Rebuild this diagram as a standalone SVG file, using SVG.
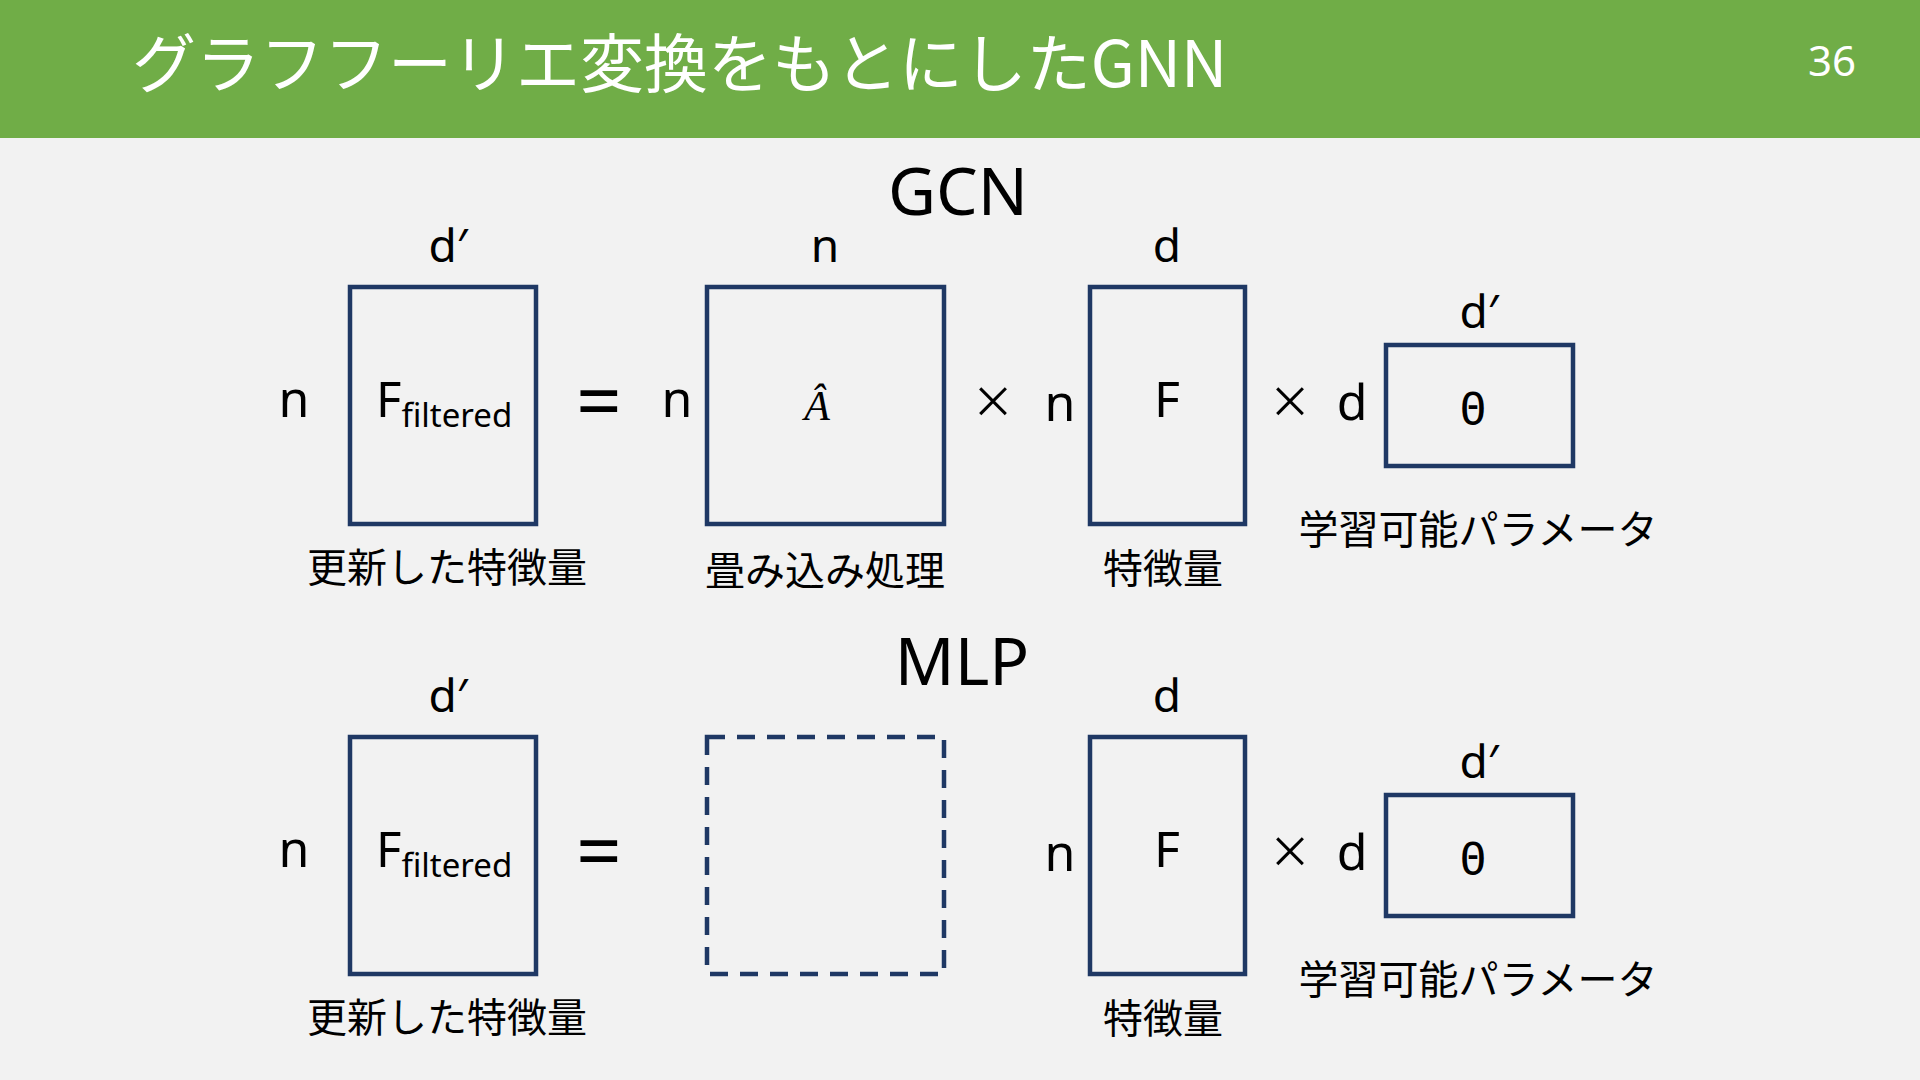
<svg xmlns="http://www.w3.org/2000/svg" width="1920" height="1080" viewBox="0 0 1920 1080">
<style>
text{font-family:"Noto Sans","Noto Sans CJK JP",sans-serif;fill:#000;text-anchor:middle}
.box{fill:none;stroke:#1F3864;stroke-width:4.5}
.dash{stroke-dasharray:18 12}
.top{font-size:46px}
.side{font-size:50px}
.cap{font-size:40px;font-family:"Noto Sans CJK JP",sans-serif}
.sec{font-size:66px}
.eq{font-size:80px}
.times{font-size:64px;font-weight:300}
.sub{font-size:33px}
.hat{font-family:"Liberation Serif",serif;font-style:italic;font-size:42px}
.theta{font-family:"DejaVu Sans Mono",monospace;font-size:44px}
</style>
<rect x="0" y="0" width="1920" height="1080" fill="#F2F2F2"/>
<g id="header">
<rect x="0" y="0" width="1920" height="138" fill="#70AD47"/>
<text x="132" y="87" style="font-size:64px;fill:#fff;text-anchor:start;font-family:'Noto Sans CJK JP',sans-serif">グラフフーリエ変換をもとにしたGNN</text>
<text x="1832" y="76" style="font-size:42px;fill:#fff">36</text>
</g>
<g id="title-gcn"><text class="sec" x="958" y="215">GCN</text></g>
<g id="title-mlp"><text class="sec" x="962" y="685">MLP</text></g>
<g id="gcn-ffiltered">
<rect class="box" x="350" y="287" width="186" height="237"/>
<text class="top" x="448" y="262">d′</text>
<text class="side" x="294" y="417">n</text>
<text x="376" y="417" style="text-anchor:start;font-size:49px">F<tspan class="sub" dy="10">filtered</tspan></text>
<text class="cap" x="447" y="582">更新した特徴量</text>
</g>
<g id="gcn-eq"><text class="eq" x="599" y="429">=</text></g>
<g id="gcn-ahat">
<rect class="box" x="707" y="287" width="237" height="237"/>
<text class="top" x="825" y="262">n</text>
<text class="side" x="677" y="417">n</text>
<text class="hat" x="817" y="420">Â</text>
<text class="cap" x="825" y="585">畳み込み処理</text>
</g>
<g id="gcn-times1"><text class="times" x="993" y="424">×</text></g>
<g id="gcn-f">
<rect class="box" x="1090" y="287" width="155" height="237"/>
<text class="top" x="1167" y="262">d</text>
<text class="side" x="1060" y="421">n</text>
<text class="side" x="1167" y="417">F</text>
<text class="cap" x="1163" y="583">特徴量</text>
</g>
<g id="gcn-times2"><text class="times" x="1290" y="424">×</text></g>
<g id="gcn-theta">
<rect class="box" x="1386" y="345" width="187" height="121"/>
<text class="top" x="1479" y="328">d′</text>
<text class="side" x="1352" y="420">d</text>
<text class="theta" x="1473" y="424">Θ</text>
<text class="cap" x="1478" y="544">学習可能パラメータ</text>
</g>
<g id="mlp-ffiltered">
<rect class="box" x="350" y="737" width="186" height="237"/>
<text class="top" x="448" y="712">d′</text>
<text class="side" x="294" y="867">n</text>
<text x="376" y="867" style="text-anchor:start;font-size:49px">F<tspan class="sub" dy="10">filtered</tspan></text>
<text class="cap" x="447" y="1032">更新した特徴量</text>
</g>
<g id="mlp-eq"><text class="eq" x="599" y="879">=</text></g>
<g id="mlp-empty"><rect class="box dash" x="707" y="737" width="237" height="237"/></g>
<g id="mlp-f">
<rect class="box" x="1090" y="737" width="155" height="237"/>
<text class="top" x="1167" y="712">d</text>
<text class="side" x="1060" y="871">n</text>
<text class="side" x="1167" y="867">F</text>
<text class="cap" x="1163" y="1033">特徴量</text>
</g>
<g id="mlp-times"><text class="times" x="1290" y="874">×</text></g>
<g id="mlp-theta">
<rect class="box" x="1386" y="795" width="187" height="121"/>
<text class="top" x="1479" y="778">d′</text>
<text class="side" x="1352" y="870">d</text>
<text class="theta" x="1473" y="874">Θ</text>
<text class="cap" x="1478" y="994">学習可能パラメータ</text>
</g>
<g id="connectors"></g>
</svg>
